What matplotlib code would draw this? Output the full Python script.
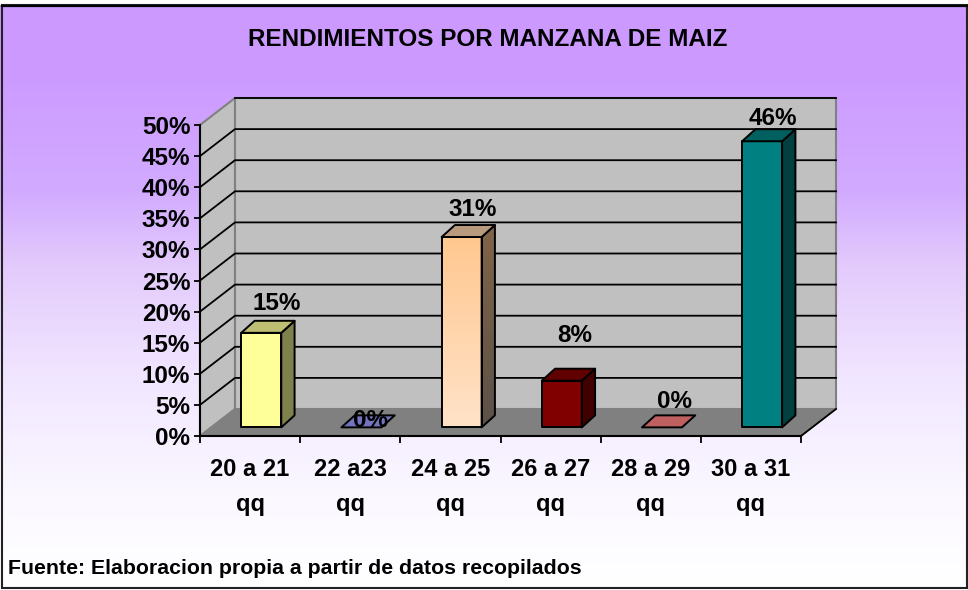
import numpy as np
import matplotlib
matplotlib.use("Agg")
import matplotlib.pyplot as plt
from matplotlib.patches import Polygon, Rectangle
from matplotlib.colors import LinearSegmentedColormap

categories = ["20 a 21\nqq", "22 a23\nqq", "24 a 25\nqq", "26 a 27\nqq", "28 a 29\nqq", "30 a 31\nqq"]
values = [15.2, 0, 30.6, 7.5, 0, 46.0]
bar_labels = ["15%", "0%", "31%", "8%", "0%", "46%"]
y_ticks = [0, 5, 10, 15, 20, 25, 30, 35, 40, 45, 50]
front_colors = ["#FFFF99", "#9999FF", "#FFCC99", "#800000", "#FF8080", "#008080"]

title = "RENDIMIENTOS POR MANZANA DE MAIZ"
source = "Fuente: Elaboracion propia a partir de datos recopilados"

plt.rcParams["font.family"] = ["Liberation Sans", "DejaVu Sans"]
plt.rcParams["font.weight"] = "bold"

W, H = 968, 590
fig = plt.figure(figsize=(W / 100, H / 100), dpi=100)

# background gradient and frame
bg = fig.add_axes([0, 0, 1, 1], zorder=0)
bg_cmap = LinearSegmentedColormap.from_list("bg", [(0, "#CC99FF"), (0.1, "#CC99FF"), (0.32, "#D2ABFF"),
                                                   (0.45, "#E3CBFC"), (0.64, "#F1E6FF"), (0.84, "#FBF8FF"),
                                                   (1, "#FFFFFF")])
bg.imshow(np.linspace(0, 1, 256).reshape(-1, 1), cmap=bg_cmap, aspect="auto", extent=[0, W, 588, 5])
bg.add_patch(Rectangle((1.5, 5), W - 2.5, 583, fill=False, ec="#222222", lw=1.5))
bg.plot([1.5, W - 1], [5.5, 5.5], color="black", lw=1.6)
bg.set_xlim(0, W)
bg.set_ylim(H, 0)
bg.axis("off")

# axes sit on the front plane of the 3D box
x0, x1 = 200, 801
y0, y1 = 436, 125
ax = fig.add_axes([x0 / W, 1 - y0 / H, (x1 - x0) / W, (y0 - y1) / H], zorder=1)
ax.patch.set_alpha(0)
ax.set_xlim(0, len(categories))
ax.set_ylim(0, 50)
px = (x1 - x0) / len(categories)
py = (y0 - y1) / 50
dx, dy = 35 / px, 27 / py


def poly(points, color, edge="black", lw=1.4, z=2):
    ax.add_patch(Polygon(points, closed=True, fc=color, ec=edge, lw=lw, clip_on=False, zorder=z, joinstyle="round"))


n = len(categories)
# walls and floor
poly([(0, 0), (dx, dy), (dx, 50 + dy), (0, 50)], "#C0C0C0", "#808080", 1.5, 1)
poly([(dx, dy), (n + dx, dy), (n + dx, 50 + dy), (dx, 50 + dy)], "#C0C0C0", "#808080", 1.5, 1)
poly([(0, 0), (n, 0), (n + dx, dy), (dx, dy)], "#808080", "#808080", 1.0, 1)
for t in y_ticks:
    if 0 < t < 50:
        ax.plot([0, dx, n + dx], [t, t + dy, t + dy], color="black", lw=1.3, clip_on=False, zorder=1.5)
ax.plot([dx, n + dx], [50 + dy, 50 + dy], color="black", lw=1.3, clip_on=False, zorder=1.5)
ax.plot([n, n + dx], [0, dy], color="black", lw=1.3, clip_on=False, zorder=1.5)


def shade(color, k):
    c = np.array(matplotlib.colors.to_rgb(color)) * k
    return tuple(c)


# bars
base_dx = 0.32 * dx
base_dy = 0.32 * dy
bw = 40 / px
bar_dx = 13.3 / px
bar_dy = 12 / py
for i, v in enumerate(values):
    left = i + 0.5 - bw / 2 + base_dx
    right = left + bw
    b = base_dy
    t = base_dy + v
    col = front_colors[i]
    if i == 2:
        # peach bar fades toward the floor
        fade = LinearSegmentedColormap.from_list("fade", ["#FFC890", "#FFE2C8"])
        ax.imshow(np.linspace(0, 1, 64).reshape(-1, 1), cmap=fade, aspect="auto", extent=[left, right, b, t], zorder=2.9)
        poly([(left, b), (right, b), (right, t), (left, t)], "none", z=3)
        side_fade = LinearSegmentedColormap.from_list("sfade", ["#806448", "#5C5248"])
        im = ax.imshow(np.linspace(0, 1, 64).reshape(-1, 1), cmap=side_fade, aspect="auto",
                       extent=[right, right + bar_dx, b, t + bar_dy], zorder=2.9)
        clip = Polygon([(right, b), (right + bar_dx, b + bar_dy), (right + bar_dx, t + bar_dy), (right, t)],
                       transform=ax.transData)
        im.set_clip_path(clip)
        poly([(right, b), (right + bar_dx, b + bar_dy), (right + bar_dx, t + bar_dy), (right, t)], "none", z=3)
        poly([(left, t), (right, t), (right + bar_dx, t + bar_dy), (left + bar_dx, t + bar_dy)], "#B89A7C", z=3)
    elif v > 0:
        poly([(left, b), (right, b), (right, t), (left, t)], col, z=3)
        poly([(right, b), (right + bar_dx, b + bar_dy), (right + bar_dx, t + bar_dy), (right, t)], shade(col, 0.5), z=3)
        poly([(left, t), (right, t), (right + bar_dx, t + bar_dy), (left + bar_dx, t + bar_dy)], shade(col, 0.75), z=3)
    else:
        # empty classes only show the bar top
        poly([(left, t), (right, t), (right + bar_dx, t + bar_dy), (left + bar_dx, t + bar_dy)], shade(col, 0.75), z=3)

ax.set_xlim(0, n)
ax.set_ylim(0, 50)

# data labels, offsets in pixels from the bar top
label_dx = [15, 9, 11, 13, 13, 11]
label_dy = [29, 7, 28, 45, 26, 23]
for i, v in enumerate(values):
    ax.annotate(bar_labels[i], (i + 0.5 + base_dx, base_dy + v),
                xytext=(label_dx[i] * 0.72, label_dy[i] * 0.72), textcoords="offset points",
                ha="center", va="center", fontsize=17.5, fontweight="bold", color="black",
                annotation_clip=False, zorder=5)

# axes
for s in ["top", "right"]:
    ax.spines[s].set_visible(False)
for s in ["left", "bottom"]:
    ax.spines[s].set_linewidth(1.5)
    ax.spines[s].set_zorder(2.5)
ax.set_yticks(y_ticks)
ax.set_yticklabels(["%d%%" % t for t in y_ticks], fontsize=17.5, fontweight="bold")
ax.tick_params(axis="y", length=4, width=1.3, pad=3)
ax.set_xticks(range(n + 1))
ax.set_xticklabels([""] * (n + 1))
ax.tick_params(axis="x", which="major", length=5, width=1.3)
ax.set_xticks(np.arange(n) + 0.5, minor=True)
ax.set_xticklabels(categories, minor=True, fontsize=17, fontweight="bold", linespacing=1.68)
ax.tick_params(axis="x", which="minor", length=0, pad=16)

fig.text(488 / W, 1 - 40 / H, title, ha="center", va="center", fontsize=17.5, fontweight="bold")
fig.text(8 / W, 1 - 569 / H, source, ha="left", va="center", fontsize=15.3, fontweight="bold")

fig.savefig("out.png", dpi=100)
